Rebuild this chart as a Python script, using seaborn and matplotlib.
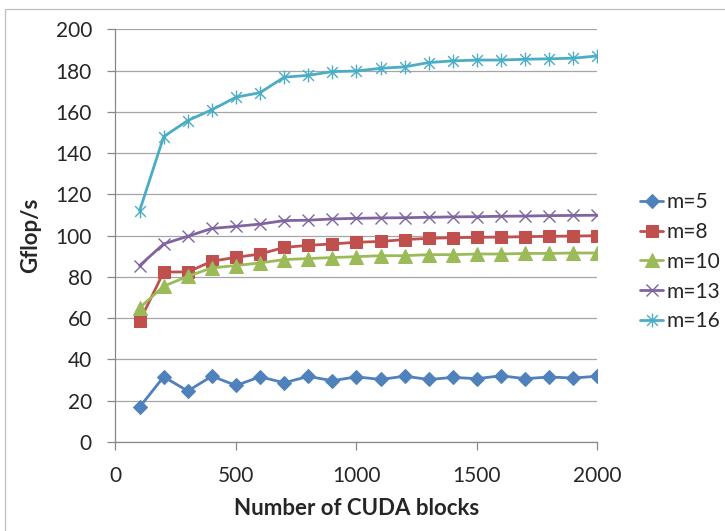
import numpy as np
import pandas as pd
import matplotlib
matplotlib.use("Agg")
import matplotlib.pyplot as plt
from matplotlib.path import Path
from matplotlib.patches import Rectangle
import seaborn as sns

# values
blocks = [100, 200, 300, 400, 500, 600, 700, 800, 900, 1000,
          1100, 1200, 1300, 1400, 1500, 1600, 1700, 1800, 1900, 2000]

m5 = [16.9, 31.6, 24.7, 31.9, 27.4, 31.6, 28.7, 31.8, 29.7, 31.6,
      30.3, 31.9, 30.3, 31.3, 30.7, 32.1, 30.7, 31.5, 31.0, 31.9]
m8 = [58.5, 82.4, 82.4, 87.6, 89.5, 91.1, 94.3, 95.3, 96.0, 96.8,
      97.2, 98.1, 98.7, 99.0, 99.2, 99.3, 99.5, 99.7, 99.8, 100.0]
m10 = [65.0, 75.5, 80.3, 84.4, 85.5, 86.8, 88.4, 88.9, 89.4, 89.8,
       90.3, 90.3, 90.8, 90.8, 91.1, 91.1, 91.4, 91.4, 91.6, 91.6]
m13 = [85.5, 96.0, 99.7, 103.5, 104.5, 105.6, 107.3, 107.5, 108.1, 108.4,
       108.6, 108.7, 108.9, 109.1, 109.2, 109.4, 109.5, 109.7, 109.8, 109.9]
m16 = [112.0, 148.0, 155.8, 161.0, 167.1, 169.3, 176.8, 177.7, 179.5, 179.8,
       181.1, 181.8, 183.9, 184.7, 185.1, 185.1, 185.5, 185.7, 186.0, 187.1]

labels = ["m=5", "m=8", "m=10", "m=13", "m=16"]
series = [m5, m8, m10, m13, m16]

df = pd.DataFrame({
    "blocks": blocks * len(series),
    "gflops": sum(series, []),
    "m": np.repeat(labels, len(blocks)),
})

sns.set_style("white")
plt.rcParams["font.family"] = ["Lato", "DejaVu Sans"]

# excel style asterisk: an x with a vertical bar
star = Path([(-1, -1), (1, 1), (-1, 1), (1, -1), (0, -1.3), (0, 1.3)],
            [Path.MOVETO, Path.LINETO, Path.MOVETO, Path.LINETO, Path.MOVETO, Path.LINETO])

styles = {
    "m=5": dict(color="#4F81BD", marker="D", markersize=7.5),
    "m=8": dict(color="#C0504D", marker="s", markersize=9),
    "m=10": dict(color="#9BBB59", marker="^", markersize=10),
    "m=13": dict(color="#8064A2", marker="x", markersize=9, markeredgewidth=1),
    "m=16": dict(color="#4BACC6", marker=star, markersize=10, markeredgewidth=1),
}

fig = plt.figure(figsize=(7.25, 5.31), dpi=100)
ax = fig.add_axes([0.1593, 0.1676, 0.8241 - 0.1593, 0.9448 - 0.1676])

for lab in labels:
    sns.lineplot(data=df[df["m"] == lab], x="blocks", y="gflops", ax=ax,
                 label=lab, linewidth=2, markeredgecolor=styles[lab]["color"],
                 **styles[lab])

ax.set_xlim(0, 2000)
ax.set_ylim(0, 200)
ax.set_xticks([0, 500, 1000, 1500, 2000])
ax.set_yticks(range(0, 201, 20))
ax.grid(axis="y", color="#A6A6A6", linewidth=0.9)
ax.set_axisbelow(True)
for s in ["top", "right"]:
    ax.spines[s].set_visible(False)
for s in ["left", "bottom"]:
    ax.spines[s].set_color("#888888")
    ax.spines[s].set_linewidth(0.9)
ax.tick_params(axis="both", length=6, width=0.9, color="#888888",
               labelsize=15, pad=11, direction="out")
ax.tick_params(axis="y", left=True)
ax.tick_params(axis="x", bottom=True)

ax.set_xlabel("Number of CUDA blocks", fontsize=16, fontweight="bold", labelpad=9)
ax.set_ylabel("Gflop/s", fontsize=16, fontweight="bold", labelpad=10)

ax.legend(loc="center left", bbox_to_anchor=(0.883, 0.507),
          bbox_transform=fig.transFigure, frameon=False, fontsize=15,
          handlelength=1.1, handletextpad=0.15, labelspacing=0.47,
          borderpad=0, borderaxespad=0)

# thin frame around the whole chart
fig.patches.append(Rectangle((5 / 725, -0.01), 1.0, 1 - 9 / 531 + 0.01,
                             transform=fig.transFigure, fill=False,
                             edgecolor="#BFBFBF", linewidth=0.9))

fig.savefig("out.png", dpi=100)
